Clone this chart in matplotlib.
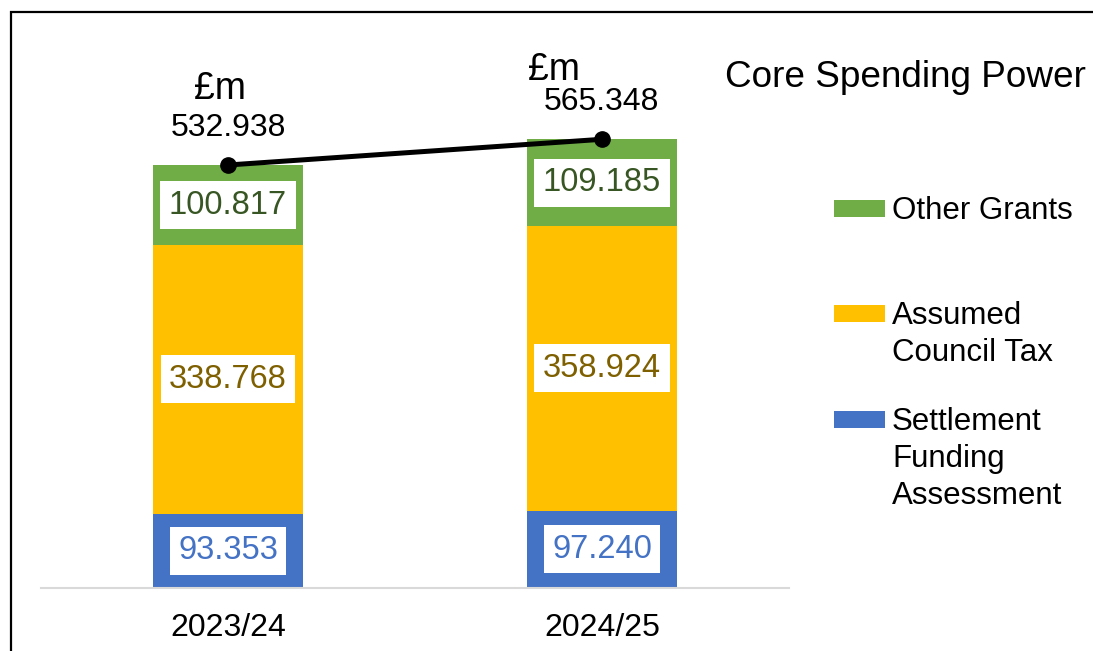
import matplotlib
matplotlib.use("Agg")
import matplotlib.pyplot as plt
from matplotlib.patches import Rectangle

plt.rcParams['font.family'] = ['Liberation Sans', 'DejaVu Sans']

years = ["2023/24", "2024/25"]
sfa = [93.353, 97.240]
council_tax = [338.768, 358.924]
other_grants = [100.817, 109.185]
totals = [532.938, 565.348]
total_labels = ["532.938", "565.348"]
series_names = ["Other Grants", "Assumed\nCouncil Tax", "Settlement\nFunding\nAssessment"]
title = "Core Spending Power"

c_blue, c_yellow, c_green = "#4472C4", "#FFC000", "#70AD47"
t_blue, t_yellow, t_green = "#4472C4", "#7F6000", "#375623"

W, H = 1093, 651
fig = plt.figure(figsize=(W / 100, H / 100), dpi=100)
fig.patch.set_facecolor("white")

def fx(px):
    return px / W

def fy(py):
    return 1 - py / H

ax = fig.add_axes([fx(41), fy(588), fx(789) - fx(41), fy(40) - fy(588)])
x = list(range(len(years)))
bw = 150 / 374

b1 = ax.bar(x, sfa, bw, color=c_blue, zorder=2)
bottom2 = sfa
b2 = ax.bar(x, council_tax, bw, bottom=bottom2, color=c_yellow, zorder=2)
bottom3 = [a + b for a, b in zip(sfa, council_tax)]
b3 = ax.bar(x, other_grants, bw, bottom=bottom3, color=c_green, zorder=2)

def label_bars(bars, vals, bottoms, tcol):
    for bar, v, b in zip(bars, vals, bottoms):
        ax.text(bar.get_x() + bar.get_width() / 2, b + v / 2, f"{v:.3f}",
                ha="center", va="center", fontsize=23.5, color=tcol, zorder=4,
                bbox=dict(boxstyle="square,pad=0.26", fc="white", ec="none"))

label_bars(b1, sfa, [0, 0], t_blue)
label_bars(b2, council_tax, bottom2, t_yellow)
label_bars(b3, other_grants, bottom3, t_green)

ax.plot(x, totals, color="black", lw=3.6, marker="o", ms=11, zorder=5, solid_capstyle="round")

num_off = [(0, 37), (-1, 37)]
pound_off = [(-8, 76), (-48, 69)]
for i in x:
    ax.annotate(total_labels[i], (x[i], totals[i]), xytext=num_off[i],
                textcoords="offset pixels", ha="center", va="center",
                fontsize=23, color="black", zorder=6)
    ax.annotate("£m", (x[i], totals[i]), xytext=pound_off[i],
                textcoords="offset pixels", ha="center", va="center",
                fontsize=27, color="black", zorder=6)

ax.set_xlim(-0.5, 1.5)
ax.set_ylim(0, 548 / 0.7937)
ax.set_xticks(x)
ax.set_xticklabels(years, fontsize=23)
ax.tick_params(axis="x", length=0, pad=18)
ax.set_yticks([])
for s in ["left", "right", "top"]:
    ax.spines[s].set_visible(False)
ax.spines["bottom"].set_color("#D9D9D9")
ax.spines["bottom"].set_linewidth(1.5)
ax.patch.set_alpha(0)

# title
fig.text(fx(725), fy(87), title, ha="left", va="baseline", fontsize=26.6, color="black")

# legend (drawn in figure coords, first line aligned with swatch)
leg_cols = [c_green, c_yellow, c_blue]
leg_tops = [200, 305, 411]
for name, col, top in zip(series_names, leg_cols, leg_tops):
    fig.patches.append(Rectangle((fx(834), fy(top + 17)), fx(885) - fx(834), fy(top) - fy(top + 17),
                                 transform=fig.transFigure, facecolor=col, edgecolor="none"))
    fig.text(fx(892), fy(top - 4), name, ha="left", va="top", fontsize=22.5,
             color="black", linespacing=1.3)

# border
fig.patches.append(Rectangle((fx(11), fy(700)), fx(1200) - fx(11), fy(12) - fy(700),
                             transform=fig.transFigure, facecolor="none",
                             edgecolor="black", lw=1.6, clip_on=False))

fig.savefig("out.png", dpi=100, facecolor="white")
